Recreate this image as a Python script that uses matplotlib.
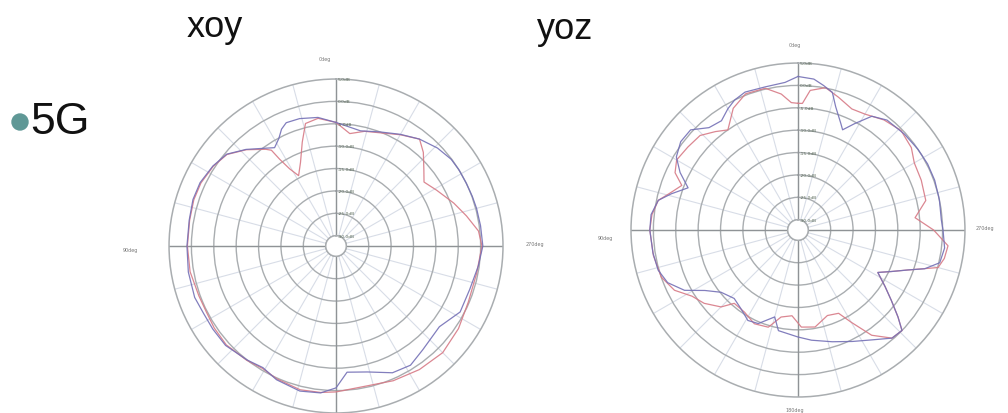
import numpy as np
import matplotlib
matplotlib.use('Agg')
from matplotlib import pyplot as plt
from matplotlib.patches import Ellipse

# ---- data (angle in deg, gain in dB) ----
xoy_blue_ang = [0, 8, 16, 22, 25, 28, 32, 35, 43, 50, 57, 65, 72, 80, 90, 100, 110, 117, 124, 132,
                142, 149, 156, 166, 174, 180, 185, 194, 204, 212, 220, 232, 242, 252, 262, 270, 278,
                285, 290, 296, 302, 307, 314, 322, 330, 339, 348, 360]
xoy_blue_db = [-4.7, -3.3, -2.7, -2.6, -3.5, -5.1, -6.4, -5.6, -2.8, -0.4, 0.5, 1.2, 1.3, 1.0, 1.0,
               1.2, 1.3, 0.9, 0.9, 0.9, 0.0, -0.6, 0.4, 1.1, 0.7, -0.6, -4.0, -3.3, -1.3, -0.9, -2.1,
               -3.0, -0.9, -0.9, -0.2, 0.5, 0.3, 0.2, 0.1, 0.0, 0.0, -0.1, -0.8, -2.0, -3.5, -5.0,
               -6.0, -4.7]

xoy_red_ang = [0, 8, 14, 18, 23, 28, 31, 33, 34, 36, 43, 50, 57, 65, 72, 80, 90, 100, 110, 117, 124,
               132, 142, 149, 156, 166, 174, 180, 190, 203, 214, 225, 236, 247, 259, 270, 276, 283,
               290, 299, 306, 311, 317, 322, 330, 339, 346, 353, 360]
xoy_red_db = [-4.7, -3.5, -4.1, -7.9, -12.0, -14.5, -12.2, -9.2, -6.5, -5.6, -2.9, -0.5, 0.4, 1.0,
              1.1, 0.9, 0.9, 0.8, 0.3, 0.2, 0.5, 0.7, 0.1, -0.4, 0.2, 0.8, 0.6, 0.3, -0.3, 0.4, 1.0,
              1.4, 0.7, -0.2, -0.3, 0.3, -0.3, -2.4, -4.3, -6.6, -8.0, -6.3, -3.7, -2.0, -3.6, -5.2,
              -5.9, -7.0, -4.7]

yoz_blue_ang = [0, 5, 13, 21, 26, 30, 35, 41, 47, 53, 59, 64, 69, 74, 78, 84, 90, 99, 106, 112, 118,
                123, 129, 137, 144, 151, 157, 165, 169, 180, 187, 197, 206, 214, 221, 226, 229, 233,
                237, 242, 246, 250, 253, 257, 263, 270, 274, 282, 290, 297, 304, 312, 321, 327, 332,
                336, 338, 343, 346, 350, 354, 360]
yoz_blue_db = [2.0, 0.8, 0.5, 0.7, 0.0, -1.0, -2.5, -2.0, 0.5, 0.5, -0.6, -3.0, -6.0, -2.9, -0.4,
               0.7, 0.8, 0.5, 0.2, -0.9, -3.6, -7.5, -10.2, -11.4, -10.6, -9.2, -9.6, -12.2, -9.4,
               -8.4, -7.5, -6.2, -4.6, -2.7, -0.3, 0.0, -2.7, -6.2, -9.1, -12.1, -9.5, -6.2, -2.7,
               0.2, 0.7, 0.1, -0.2, 0.0, 0.2, 0.2, 0.0, -0.3, -0.7, -2.0, -5.4, -7.8, -6.7, -3.5,
               -0.6, 0.5, 1.6, 2.0]

yoz_red_ang = [0, 3, 7, 13, 21, 28, 35, 40, 46, 53, 60, 65, 69, 74, 78, 84, 90, 100, 109, 116, 122,
               128, 135, 139, 147, 155, 163, 169, 176, 182, 190, 199, 206, 210, 215, 221, 226, 229,
               233, 237, 242, 246, 250, 255, 259, 264, 270, 276, 283, 292, 300, 306, 314, 322, 330,
               336, 343, 349, 355, 358, 360]
yoz_red_db = [-4.0, -3.8, -1.7, 0.2, 0.3, -1.5, -5.0, -3.6, -1.9, -1.5, -1.0, -2.0, -4.5, -2.5,
              -0.4, 0.5, 0.8, 0.5, 0.0, -1.6, -4.4, -5.7, -8.0, -10.6, -10.4, -9.2, -9.6, -12.5,
              -13.1, -10.6, -10.3, -12.1, -11.6, -8.5, -3.6, -0.3, 0.0, -2.7, -6.2, -9.1, -12.1,
              -9.5, -6.2, 0.1, 1.0, 1.4, -2.0, -6.0, -3.0, -2.6, -2.3, -1.0, -0.3, -1.1, -2.4, -2.7,
              -1.3, 0.1, -1.0, -4.0, -4.0]

ring_vals = [5, 0, -5, -10, -15, -20, -25, -30]
ring_labels = ['5.0dB', '0.0dB', '-5.0dB', '-10.0dB', '-15.0dB', '-20.0dB', '-25.0dB', '-30.0dB']

RED = '#d77a86'
BLUE = '#7470b6'
GRID = '#a9adb0'


def polar_panel(rect, blue_ang, blue_db, red_ang, red_db, deg_pos):
    ax = fig.add_axes(rect, projection='polar')
    ax.set_theta_zero_location('N')
    ax.set_theta_direction(1)
    ax.set_ylim(-30, 5)
    ax.set_rorigin(-32.3)
    ax.set_thetagrids(np.arange(0, 360, 15), labels=[])
    ax.set_rgrids([-25, -20, -15, -10, -5, 0], labels=[])
    ax.grid(True, axis='x', color='#d8dde7', lw=0.8)
    ax.grid(True, axis='y', color=GRID, lw=1.0)
    for s in ax.spines.values():
        s.set_color(GRID)
        s.set_linewidth(1.1)
    th = np.linspace(0, 2 * np.pi, 200)
    ax.plot(th, np.full_like(th, -30), color=GRID, lw=1.0)
    for a in [0, 90, 180, 270]:
        ax.axvline(np.deg2rad(a), color='#8f9396', lw=1.0)

    ax.plot(np.deg2rad(red_ang), red_db, color=RED, lw=0.9, alpha=0.9)
    ax.plot(np.deg2rad(blue_ang), blue_db, color=BLUE, lw=0.9, alpha=0.9)

    for v, lab in zip(ring_vals, ring_labels):
        ax.annotate(lab, xy=(0, v), xytext=(1.5, 0), textcoords='offset points',
                    fontsize=3.2, color='#5b6b5b', ha='left', va='center')
    for (x, y, lab) in deg_pos:
        ax.text(x, y, lab, transform=ax.transAxes, fontsize=3.5, color='#777777',
                ha='center', va='center')
    return ax


fig = plt.figure(figsize=(10.08, 4.14), dpi=100)

ax1 = polar_panel([0.1677, 0.0, 0.3313, 0.8068], xoy_blue_ang, xoy_blue_db, xoy_red_ang, xoy_red_db,
                  [(0.467, 1.06, '0deg'), (-0.117, 0.49, '90deg'), (1.096, 0.506, '270deg')])
ax2 = polar_panel([0.626, 0.0386, 0.3313, 0.8068], yoz_blue_ang, yoz_blue_db, yoz_red_ang, yoz_red_db,
                  [(0.491, 1.057, '0deg'), (-0.078, 0.479, '90deg'), (1.06, 0.509, '270deg'),
                   (0.49, -0.036, '180deg')])

fig.text(215 / 1008, 1 - 37 / 414, 'xoy', fontsize=26, family='Liberation Sans',
         ha='center', va='baseline', color='#111111')
fig.text(565 / 1008, 1 - 39 / 414, 'yoz', fontsize=26, family='Liberation Sans',
         ha='center', va='baseline', color='#111111')
fig.add_artist(Ellipse((20 / 1008, 1 - 123 / 414), 16 / 1008, 16 / 414,
                       transform=fig.transFigure, color='#5f9896'))
fig.text(30 / 1008, 1 - 134 / 414, '5G', fontsize=32, family='Liberation Sans',
         ha='left', va='baseline', color='#111111')

fig.savefig('out.png', dpi=100)
